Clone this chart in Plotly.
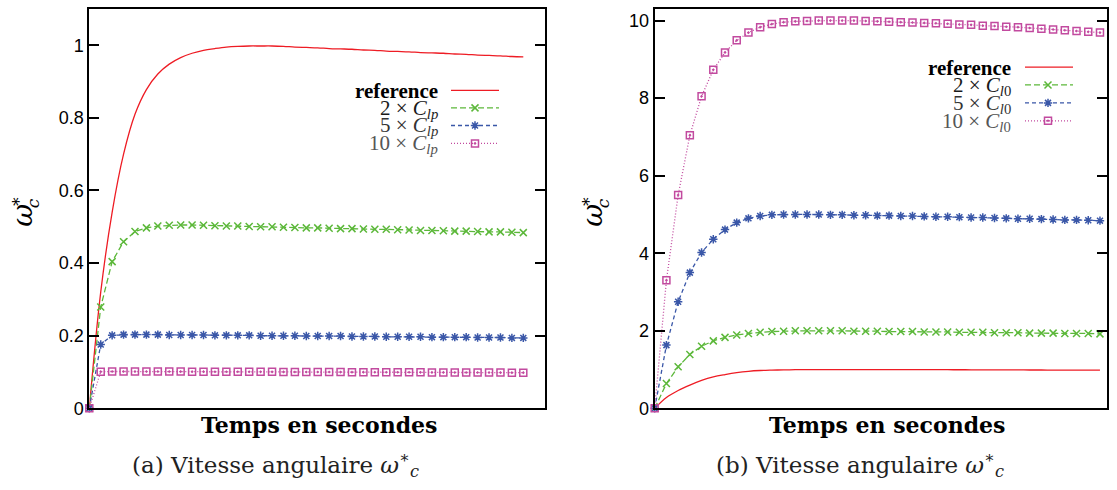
import plotly.graph_objects as go

# ---------------- data ----------------
t = list(range(39))

# panel (a): variation of C_lp
ref_a = [0, 0.32, 0.54, 0.70, 0.81, 0.878, 0.921, 0.948, 0.966, 0.978,
         0.986, 0.991, 0.995, 0.997, 0.998, 0.998, 0.998, 0.997, 0.995, 0.994,
         0.993, 0.991, 0.990, 0.989, 0.987, 0.986, 0.984, 0.983, 0.982, 0.980,
         0.979, 0.978, 0.976, 0.975, 0.973, 0.972, 0.971, 0.969, 0.968]
lp2 = [0, 0.279, 0.404, 0.459, 0.487, 0.497, 0.502, 0.504, 0.505, 0.505,
       0.504, 0.503, 0.502, 0.502, 0.501, 0.500, 0.500, 0.499, 0.498, 0.497,
       0.497, 0.496, 0.495, 0.495, 0.494, 0.493, 0.493, 0.492, 0.491, 0.490,
       0.490, 0.489, 0.488, 0.488, 0.487, 0.486, 0.486, 0.485, 0.484]
lp5 = [0, 0.176, 0.201, 0.203, 0.203, 0.203, 0.203, 0.202, 0.202, 0.202,
       0.202, 0.201, 0.201, 0.201, 0.201, 0.200, 0.200, 0.200, 0.200, 0.199,
       0.199, 0.199, 0.199, 0.198, 0.198, 0.198, 0.197, 0.197, 0.197, 0.197,
       0.196, 0.196, 0.196, 0.196, 0.195, 0.195, 0.195, 0.194, 0.194]
lp10 = [0, 0.101, 0.1015, 0.1015, 0.1015, 0.1014, 0.1013, 0.1012, 0.1011, 0.1010,
        0.1010, 0.1009, 0.1008, 0.1007, 0.1006, 0.1005, 0.1004, 0.1003, 0.1002, 0.1001,
        0.1000, 0.0999, 0.0998, 0.0997, 0.0996, 0.0995, 0.0994, 0.0993, 0.0992, 0.0991,
        0.0990, 0.0989, 0.0988, 0.0987, 0.0986, 0.0985, 0.0984, 0.0983, 0.0982]

# panel (b): variation of C_l0
ref_b = [0, 0.28, 0.46, 0.60, 0.72, 0.81, 0.87, 0.92, 0.955, 0.975,
         0.985, 0.992, 0.996, 0.998, 0.999, 1.0, 1.0, 1.0, 1.0, 1.0,
         0.999, 0.999, 0.998, 0.998, 0.997, 0.996, 0.995, 0.994, 0.993, 0.992,
         0.991, 0.990, 0.989, 0.988, 0.987, 0.986, 0.985, 0.984, 0.983]
l02 = [0, 0.64, 1.07, 1.39, 1.60, 1.74, 1.83, 1.89, 1.93, 1.96,
       1.98, 1.99, 2.0, 2.0, 2.0, 2.0, 2.0, 1.99, 1.99, 1.99,
       1.98, 1.98, 1.98, 1.97, 1.97, 1.97, 1.96, 1.96, 1.96, 1.95,
       1.95, 1.95, 1.94, 1.94, 1.94, 1.93, 1.93, 1.93, 1.92]
l05 = [0, 1.63, 2.75, 3.50, 4.02, 4.36, 4.61, 4.79, 4.90, 4.96,
       4.99, 5.0, 5.0, 5.0, 5.0, 4.99, 4.99, 4.98, 4.98, 4.97,
       4.97, 4.96, 4.96, 4.95, 4.94, 4.94, 4.93, 4.92, 4.92, 4.91,
       4.90, 4.89, 4.89, 4.88, 4.87, 4.86, 4.86, 4.85, 4.84]
l010 = [0, 3.30, 5.50, 7.04, 8.05, 8.73, 9.18, 9.49, 9.69, 9.83,
        9.91, 9.96, 9.98, 9.99, 10.0, 10.0, 10.0, 10.0, 9.99, 9.98,
        9.97, 9.96, 9.95, 9.94, 9.93, 9.92, 9.90, 9.89, 9.87, 9.86,
        9.84, 9.83, 9.81, 9.79, 9.77, 9.75, 9.73, 9.71, 9.69]

yticks_a = [0, 0.2, 0.4, 0.6, 0.8, 1]
ytext_a = ["0", "0.2", "0.4", "0.6", "0.8", "1"]
yticks_b = [0, 2, 4, 6, 8, 10]
ytext_b = ["0", "2", "4", "6", "8", "10"]

legend_a = ["<b>reference</b>",
            "2 × <i>C</i><sub><i>lp</i></sub>",
            "5 × <i>C</i><sub><i>lp</i></sub>",
            "10 × <i>C</i><sub><i>lp</i></sub>"]
legend_b = ["<b>reference</b>",
            "2 × <i>C</i><sub><i>l</i>0</sub>",
            "5 × <i>C</i><sub><i>l</i>0</sub>",
            "10 × <i>C</i><sub><i>l</i>0</sub>"]
xtitle = "<b>Temps en secondes</b>"
captions = ["(a) Vitesse angulaire <i>ω</i><sup>∗</sup><sub><i>c</i></sub>",
            "(b) Vitesse angulaire <i>ω</i><sup>∗</sup><sub><i>c</i></sub>"]

# ---------------- styles ----------------
W, H = 1117, 490      # design coordinates (reference pixels)
H_FIG = 498           # figure height (page is shown slightly squeezed vertically)
RED, GREEN, BLUE, PINK = "#ee1c24", "#5cb83a", "#3a57a8", "#c24a9f"
styles = [
    dict(color=RED, dash="solid", symbol=None),
    dict(color=GREEN, dash="6px,3px", symbol="x-thin-open"),
    dict(color=BLUE, dash="4px,3px", symbol="asterisk-open"),
    dict(color=PINK, dash="1px,2px", symbol="square-open-dot"),
]
SERIF = "DejaVu Serif"
LSERIF = "Liberation Serif"
legend_colors = ["#000000", "#1a1a1a", "#333333", "#555555"]

fig = go.Figure()


def add_series(ys, st, xa, ya, spline=False):
    kw = dict(x=t, y=ys, xaxis=xa, yaxis=ya, cliponaxis=False, hoverinfo="skip",
              line=dict(color=st["color"], width=1.3, dash=st["dash"],
                        shape="spline" if spline else "linear"))
    if st["symbol"] is None:
        kw["mode"] = "lines"
    else:
        kw["mode"] = "lines+markers"
        kw["marker"] = dict(symbol=st["symbol"], size=7, color=st["color"],
                            line=dict(color=st["color"], width=1.5))
    fig.add_trace(go.Scatter(**kw))


for ys, st in zip([ref_a, lp2, lp5, lp10], styles):
    add_series(ys, st, "x", "y", spline=(st["symbol"] is None))
for ys, st in zip([ref_b, l02, l05, l010], styles):
    add_series(ys, st, "x2", "y2", spline=(st["symbol"] is None))

# ---------------- legends (drawn on a pixel overlay axis) ----------------
def add_legend(labels, text_right, x1, x2, xm, rows):
    for lab, st, yy, col in zip(labels, styles, rows, legend_colors):
        fig.add_trace(go.Scatter(x=[x1, x2], y=[yy, yy], mode="lines", xaxis="x3", yaxis="y3",
                                 hoverinfo="skip",
                                 line=dict(color=st["color"], width=1.3, dash=st["dash"])))
        if st["symbol"]:
            fig.add_trace(go.Scatter(x=[xm], y=[yy], mode="markers", xaxis="x3", yaxis="y3",
                                     hoverinfo="skip",
                                     marker=dict(symbol=st["symbol"], size=7, color=st["color"],
                                                 line=dict(color=st["color"], width=1.5))))
        fig.add_annotation(x=text_right, y=yy + 1, xref="x3", yref="y3", text=lab,
                           showarrow=False, xanchor="right", yanchor="middle",
                           font=dict(family=LSERIF, size=21, color=col))


add_legend(legend_a, 440, 451, 499, 475, [90.7, 108.3, 126, 144])
add_legend(legend_b, 1013, 1025, 1073, 1048, [67.3, 85.3, 103.3, 121.3])

# ---------------- layout ----------------
yd = [1 - 410 / H, 1 - 9 / H]
tickfont = dict(family="Liberation Sans", size=18, color="black")
common_x = dict(showticklabels=False, ticks="", showline=True, mirror=True,
                linecolor="black", linewidth=2, showgrid=False, zeroline=False, fixedrange=True)
common_y = dict(ticks="inside", ticklen=10, tickwidth=2, tickcolor="black", showline=True,
                mirror="ticks", linecolor="black", linewidth=2, showgrid=False,
                zeroline=False, tickfont=tickfont, fixedrange=True)

fig.update_layout(
    width=W, height=H_FIG, margin=dict(l=0, r=0, t=0, b=0),
    paper_bgcolor="white", plot_bgcolor="rgba(0,0,0,0)", showlegend=False,
    xaxis=dict(domain=[89.3 / W, 545 / W], range=[0, 39.9], anchor="y", **common_x),
    yaxis=dict(domain=yd, range=[0, 1.1], tickvals=yticks_a, ticktext=ytext_a,
               anchor="x", **common_y),
    xaxis2=dict(domain=[654.7 / W, 1107 / W], range=[0, 38.6], anchor="y2", **common_x),
    yaxis2=dict(domain=yd, range=[0, 10.3], tickvals=yticks_b, ticktext=ytext_b,
                anchor="x2", **common_y),
    xaxis3=dict(domain=[0, 1], range=[0, W], visible=False, anchor="y3", fixedrange=True),
    yaxis3=dict(domain=[0, 1], range=[H, 0], visible=False, anchor="x3", fixedrange=True),
)

# x titles and captions
for cx, cap_x, cap in [(319, 275, captions[0]), (887, 860, captions[1])]:
    fig.add_annotation(x=cx, y=427, xref="x3", yref="y3", text=xtitle, showarrow=False,
                       xanchor="center", yanchor="middle",
                       font=dict(family=SERIF, size=22, color="black"))
    fig.add_annotation(x=cap_x, y=466, xref="x3", yref="y3", text=cap, showarrow=False,
                       xanchor="center", yanchor="middle",
                       font=dict(family=SERIF, size=23, color="#222222"))

# y titles: omega with star superscript and c subscript (rotated)
for ox in [21.7, 591.7]:
    fig.add_annotation(x=ox, y=216, xref="x3", yref="y3", text="<i>ω</i>", showarrow=False,
                       textangle=-90, xanchor="center", yanchor="middle",
                       font=dict(family=SERIF, size=28, color="black"))
    fig.add_annotation(x=ox - 6.7, y=202, xref="x3", yref="y3", text="∗", showarrow=False,
                       textangle=-90, xanchor="center", yanchor="middle",
                       font=dict(family=SERIF, size=17, color="black"))
    fig.add_annotation(x=ox + 11.3, y=204, xref="x3", yref="y3", text="<i>c</i>", showarrow=False,
                       textangle=-90, xanchor="center", yanchor="middle",
                       font=dict(family=SERIF, size=17, color="black"))

post = ("var gd=document.getElementById('{plot_id}');"
        "gd.style.position='absolute';gd.style.left='0px';gd.style.top='0px';"
        "gd.style.overflow='hidden';"
        "document.body.style.margin='0px';document.body.style.overflow='hidden';"
        "document.documentElement.style.overflow='hidden';")
fig.write_html("out.html", config={"displayModeBar": False}, post_script=post)
